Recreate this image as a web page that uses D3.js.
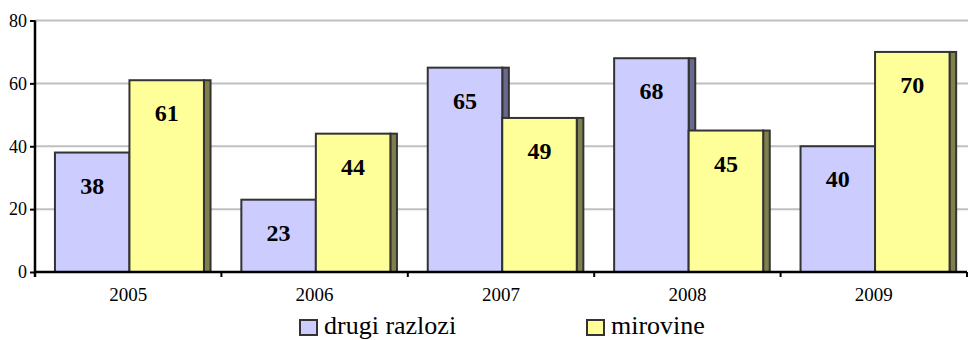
<!DOCTYPE html>
<html>
<head>
<meta charset="utf-8">
<script src="https://cdn.jsdelivr.net/npm/d3@7"></script>
<style>
  html, body { margin: 0; padding: 0; background: #fff; }
  svg { display: block; }
  svg text { font-family: "Liberation Serif", "Times New Roman", Times, Tinos, "Nimbus Roman", "DejaVu Serif", "Noto Serif", serif !important; fill: #000; }
</style>
</head>
<body>
<svg id="chart" width="968" height="340"></svg>
<script>
// Yearly counts by reason
const years = ["2005", "2006", "2007", "2008", "2009"];
const drugiRazlozi = [38, 23, 65, 68, 40];
const mirovine = [61, 44, 49, 45, 70];
const yTicks = [0, 20, 40, 60, 80];
const seriesNames = ["drugi razlozi", "mirovine"];

const series = [
  { name: seriesNames[0], values: drugiRazlozi, front: "#ccccff", side: "#69698f" },
  { name: seriesNames[1], values: mirovine, front: "#ffff99", side: "#80804d" }
];

const svg = d3.select("#chart");
const plotLeft = 35, plotRight = 967, plotTop = 20.5, plotBottom = 272;

const x = d3.scaleBand().domain(years).range([plotLeft, plotRight]).paddingInner(0).paddingOuter(0);
const y = d3.scaleLinear().domain([0, 80]).range([plotBottom, plotTop]);
const bw = x.bandwidth();
const gapLeft = bw * 0.107, barW = bw * 0.3997, depth = bw * 0.0354;

// Horizontal gridlines
svg.append("g")
  .selectAll("line")
  .data(yTicks.filter(d => d > 0))
  .join("line")
  .attr("x1", plotLeft).attr("x2", 968)
  .attr("y1", d => y(d)).attr("y2", d => y(d))
  .attr("stroke", "#c0c0c0").attr("stroke-width", 2);

// Bars: each bar has a front face and a narrow darker side face
const bars = svg.append("g");
years.forEach((yr, i) => {
  series.forEach((s, j) => {
    const v = s.values[i];
    const bx = x(yr) + gapLeft + j * barW;
    const g = bars.append("g");
    g.append("rect")
      .attr("x", bx + barW).attr("y", y(v))
      .attr("width", depth).attr("height", y(0) - y(v))
      .attr("fill", s.side).attr("stroke", "#333").attr("stroke-width", 2);
    g.append("rect")
      .attr("x", bx).attr("y", y(v))
      .attr("width", barW).attr("height", y(0) - y(v))
      .attr("fill", s.front).attr("stroke", "#333").attr("stroke-width", 2);
  });
});

// Value labels inside the bars
years.forEach((yr, i) => {
  series.forEach((s, j) => {
    const v = s.values[i];
    const bx = x(yr) + gapLeft + j * barW;
    svg.append("text")
      .attr("x", bx + barW / 2)
      .attr("y", y(v) + 41)
      .attr("text-anchor", "middle")
      .attr("font-size", 24)
      .attr("font-weight", "bold")
      .text(v);
  });
});

// Y axis
const yAxis = svg.append("g")
  .attr("transform", `translate(${plotLeft},0)`)
  .call(d3.axisLeft(y).tickValues(yTicks).tickSize(5).tickPadding(3).tickFormat(d3.format("d")));
yAxis.attr("font-family", null);
yAxis.select(".domain").attr("stroke", "#000").attr("stroke-width", 2.5)
  .attr("d", `M0,${plotTop}V${plotBottom + 5}`);
yAxis.selectAll(".tick line").attr("stroke", "#000").attr("stroke-width", 2);
yAxis.selectAll(".tick text").attr("font-size", 18).attr("fill", "#000");

// X axis
const xAxis = svg.append("g")
  .attr("transform", `translate(0,${plotBottom})`)
  .call(d3.axisBottom(x).tickSize(0).tickPadding(0));
xAxis.attr("font-family", null);
xAxis.select(".domain").attr("stroke", "#000").attr("stroke-width", 2.5)
  .attr("d", `M${plotLeft},0H${plotRight}`);
xAxis.selectAll(".tick text")
  .attr("font-size", 19).attr("fill", "#000")
  .attr("dy", null).attr("y", 29);
// Category separator ticks
xAxis.append("g")
  .selectAll("line")
  .data(years.slice(1).map(d => x(d)).concat([plotRight]))
  .join("line")
  .attr("x1", d => d).attr("x2", d => d)
  .attr("y1", 0).attr("y2", 5)
  .attr("stroke", "#000").attr("stroke-width", 2);

// Legend
const legendX = [300, 587];
const legend = svg.append("g");
series.forEach((s, j) => {
  legend.append("rect")
    .attr("x", legendX[j]).attr("y", 320)
    .attr("width", 17).attr("height", 15)
    .attr("fill", s.front).attr("stroke", "#333").attr("stroke-width", 2);
  legend.append("text")
    .attr("x", legendX[j] + 24).attr("y", 334)
    .attr("font-size", 26)
    .text(s.name);
});
</script>
</body>
</html>
